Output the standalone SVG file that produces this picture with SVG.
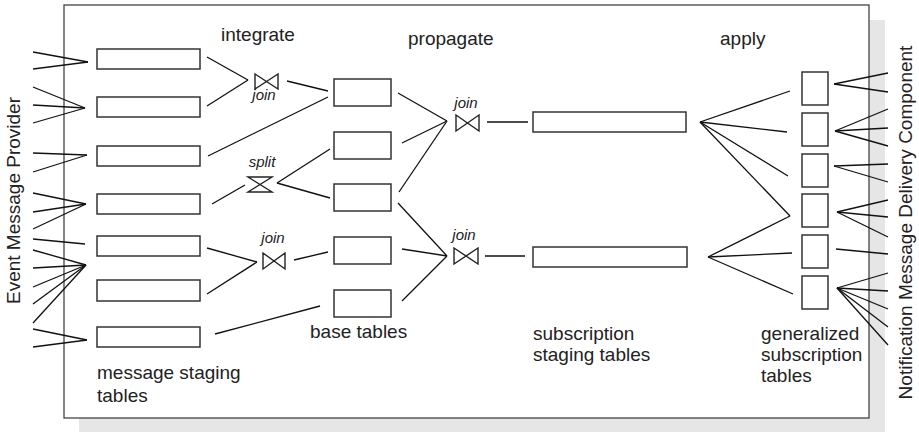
<svg xmlns="http://www.w3.org/2000/svg" width="919" height="432" viewBox="0 0 919 432">
<style>
.frame{fill:#fff;stroke:#444;stroke-width:1.3}
.shadow{fill:#e6e6e6;stroke:none}
.tbl{fill:#fff;stroke:#333;stroke-width:1.5}
.op{fill:none;stroke:#222;stroke-width:1.4;stroke-linejoin:miter}
#connectors line{stroke:#111;stroke-width:1.3}
.lbl{font-family:"Liberation Sans",Arial,sans-serif;font-size:19px;fill:#222}
.op-lbl{font-family:"Liberation Sans",Arial,sans-serif;font-size:15px;font-style:italic;fill:#222;text-anchor:middle}
</style>
<rect class="shadow" x="79" y="20" width="806" height="413"/>
<rect class="frame" x="64" y="5" width="805" height="413"/>
<g id="connectors">
<line x1="33" y1="52" x2="88" y2="62"/><line x1="33" y1="69" x2="88" y2="62"/>
<line x1="33" y1="87" x2="85" y2="108"/><line x1="33" y1="105" x2="85" y2="108"/><line x1="33" y1="123" x2="85" y2="108"/>
<line x1="33" y1="153" x2="87" y2="155"/><line x1="33" y1="172" x2="87" y2="155"/>
<line x1="33" y1="193" x2="86" y2="204"/><line x1="33" y1="212" x2="86" y2="204"/><line x1="33" y1="229" x2="86" y2="204"/>
<line x1="33" y1="239" x2="85" y2="244"/>
<line x1="33" y1="250" x2="86" y2="265"/><line x1="33" y1="268" x2="86" y2="265"/><line x1="33" y1="287" x2="86" y2="265"/><line x1="33" y1="304" x2="86" y2="265"/><line x1="33" y1="323" x2="86" y2="265"/>
<line x1="33" y1="329" x2="87" y2="340"/><line x1="33" y1="347" x2="87" y2="340"/>
<line x1="207" y1="57" x2="248" y2="80"/><line x1="207" y1="106" x2="248" y2="80"/><line x1="287" y1="81" x2="328" y2="91"/>
<line x1="208" y1="156" x2="328" y2="97"/>
<line x1="212" y1="204" x2="245" y2="185"/>
<line x1="277" y1="183" x2="330" y2="149"/><line x1="277" y1="183" x2="330" y2="198"/>
<line x1="207" y1="248" x2="257" y2="262"/><line x1="207" y1="294" x2="257" y2="262"/><line x1="294" y1="260" x2="328" y2="252"/>
<line x1="215" y1="334" x2="320" y2="306"/>
<line x1="398" y1="93" x2="447" y2="121"/><line x1="402" y1="143" x2="447" y2="121"/><line x1="399" y1="192" x2="447" y2="121"/>
<line x1="398" y1="203" x2="447" y2="256"/><line x1="402" y1="249" x2="447" y2="256"/><line x1="402" y1="301" x2="447" y2="256"/>
<line x1="487" y1="122" x2="528" y2="122"/>
<line x1="485" y1="256" x2="525" y2="256"/>
<line x1="700" y1="122" x2="790" y2="91"/><line x1="700" y1="122" x2="787" y2="132"/><line x1="700" y1="122" x2="788" y2="176"/><line x1="700" y1="122" x2="790" y2="216"/>
<line x1="708" y1="257" x2="790" y2="216"/><line x1="708" y1="257" x2="792" y2="253"/><line x1="708" y1="257" x2="793" y2="294"/>
<line x1="834" y1="84" x2="888" y2="73"/><line x1="834" y1="84" x2="888" y2="92"/>
<line x1="835" y1="131" x2="888" y2="109"/><line x1="835" y1="131" x2="888" y2="128"/><line x1="835" y1="131" x2="888" y2="146"/>
<line x1="834" y1="166" x2="888" y2="164"/><line x1="834" y1="166" x2="888" y2="182"/>
<line x1="837" y1="212" x2="888" y2="200"/><line x1="837" y1="212" x2="888" y2="217"/><line x1="837" y1="212" x2="888" y2="237"/>
<line x1="836" y1="249" x2="888" y2="254"/>
<line x1="837" y1="288" x2="888" y2="273"/><line x1="837" y1="288" x2="888" y2="291"/><line x1="837" y1="288" x2="888" y2="309"/><line x1="837" y1="288" x2="888" y2="327"/><line x1="837" y1="288" x2="888" y2="345"/>
</g>
<g id="message-staging-tables">
<rect id="ms1" class="tbl" x="97" y="49" width="103" height="20"/>
<rect id="ms2" class="tbl" x="97" y="97" width="103" height="20"/>
<rect id="ms3" class="tbl" x="97" y="146" width="103" height="20"/>
<rect id="ms4" class="tbl" x="97" y="194" width="103" height="20"/>
<rect id="ms5" class="tbl" x="97" y="236" width="103" height="20"/>
<rect id="ms6" class="tbl" x="97" y="280" width="103" height="21"/>
<rect id="ms7" class="tbl" x="97" y="327" width="103" height="20"/>
<text class="lbl" x="97" y="379">message staging</text>
<text class="lbl" x="97" y="402">tables</text>
</g>
<g id="base-tables">
<rect id="bt1" class="tbl" x="334" y="79" width="57" height="27"/>
<rect id="bt2" class="tbl" x="334" y="132" width="57" height="27"/>
<rect id="bt3" class="tbl" x="334" y="184" width="57" height="27"/>
<rect id="bt4" class="tbl" x="334" y="237" width="57" height="27"/>
<rect id="bt5" class="tbl" x="334" y="290" width="57" height="27"/>
<text class="lbl" x="310" y="338">base tables</text>
</g>
<g id="subscription-staging-tables">
<rect id="st1" class="tbl" x="533" y="112" width="153" height="20"/>
<rect id="st2" class="tbl" x="533" y="247" width="154" height="20"/>
<text class="lbl" x="533" y="340">subscription</text>
<text class="lbl" x="533" y="361">staging tables</text>
</g>
<g id="generalized-subscription-tables">
<rect id="gs1" class="tbl" x="802" y="72" width="26" height="33"/>
<rect id="gs2" class="tbl" x="802" y="113" width="26" height="33"/>
<rect id="gs3" class="tbl" x="802" y="154" width="26" height="33"/>
<rect id="gs4" class="tbl" x="802" y="194" width="26" height="33"/>
<rect id="gs5" class="tbl" x="802" y="235" width="26" height="33"/>
<rect id="gs6" class="tbl" x="802" y="276" width="26" height="33"/>
<text class="lbl" x="761" y="340">generalized</text>
<text class="lbl" x="761" y="361">subscription</text>
<text class="lbl" x="761" y="382">tables</text>
</g>
<g id="join-integrate-1">
<polygon class="op" points="255,74 278,89 278,74 255,89"/>
<text class="op-lbl" x="264" y="100">join</text>
</g>
<g id="split-integrate">
<polygon class="op" points="248,177 272,177 248,192 272,192"/>
<text class="op-lbl" x="262" y="167">split</text>
</g>
<g id="join-integrate-2">
<polygon class="op" points="263,253 285,269 285,253 263,269"/>
<text class="op-lbl" x="273" y="243">join</text>
</g>
<g id="join-propagate-1">
<polygon class="op" points="456,115 479,131 479,115 456,131"/>
<text class="op-lbl" x="466" y="108">join</text>
</g>
<g id="join-propagate-2">
<polygon class="op" points="454,248 478,264 478,248 454,264"/>
<text class="op-lbl" x="464" y="240">join</text>
</g>
<g id="phase-labels">
<text class="lbl" x="221" y="41">integrate</text>
<text class="lbl" x="408" y="45">propagate</text>
<text class="lbl" x="720" y="45">apply</text>
</g>
<g id="event-message-provider">
<text class="lbl" transform="translate(20,200.5) rotate(-90)" text-anchor="middle">Event Message Provider</text>
</g>
<g id="notification-message-delivery-component">
<text class="lbl" transform="translate(912,222.5) rotate(-90)" text-anchor="middle">Notification Message Delivery Component</text>
</g>
</svg>
